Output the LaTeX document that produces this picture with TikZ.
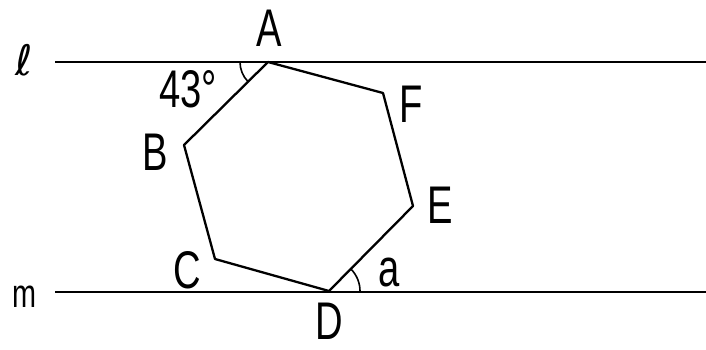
\documentclass[tikz,border=0pt]{standalone}
\usepackage{fontspec}
\setmainfont{Liberation Sans}[FakeStretch=0.72]
\newfontfamily\ellfont{DejaVu Sans}
\begin{document}
\begin{tikzpicture}[x=1pt,y=-1pt,
  lbl/.style={inner sep=0pt,font=\fontsize{53}{60}\selectfont},
  mainline/.style={line width=2.8pt},
  hexline/.style={line width=2.3pt,line join=round},
  anglearc/.style={line width=1.6pt}]
\useasboundingbox (0,0) rectangle (706,349);
% parallel lines
\coordinate (l1) at (55,62);
\coordinate (l2) at (706,62);
\coordinate (m1) at (55,292);
\coordinate (m2) at (706,292);
\draw[mainline] (l1) -- (l2);
\draw[mainline] (m1) -- (m2);
% hexagon vertices
\coordinate (A) at (268,62);
\coordinate (F) at (383,93);
\coordinate (E) at (413,206);
\coordinate (D) at (329,291);
\coordinate (C) at (215,259);
\coordinate (B) at (184,145);
\draw[hexline] (A) -- (F) -- (E) -- (D) -- (C) -- (B) -- cycle;
% angle arcs
\draw[anglearc] ([shift={(-28,0)}]A) arc[start angle=180,end angle=136,radius=28];
\draw[anglearc] ([shift={(31,0)}]D) arc[start angle=0,end angle=-45,radius=31];
% labels
\node[lbl] (lA) at (269,28) {A};
\node[lbl] (lB) at (155,152) {B};
\node[lbl] (lC) at (187,270) {C};
\node[lbl] (lD) at (329,321) {D};
\node[lbl] (lE) at (440,205) {E};
\node[lbl] (lF) at (411,104) {F};
\node[lbl] (lang) at (188,89) {43°};
\node[lbl] (la) at (389,272) {a};
\node[inner sep=0pt,font=\ellfont\fontsize{42}{48}\selectfont] (lell) at (24,60) {ℓ};
\node[inner sep=0pt,font=\fontsize{40}{46}\selectfont] (lm) at (24,297) {m};
\end{tikzpicture}
\end{document}
